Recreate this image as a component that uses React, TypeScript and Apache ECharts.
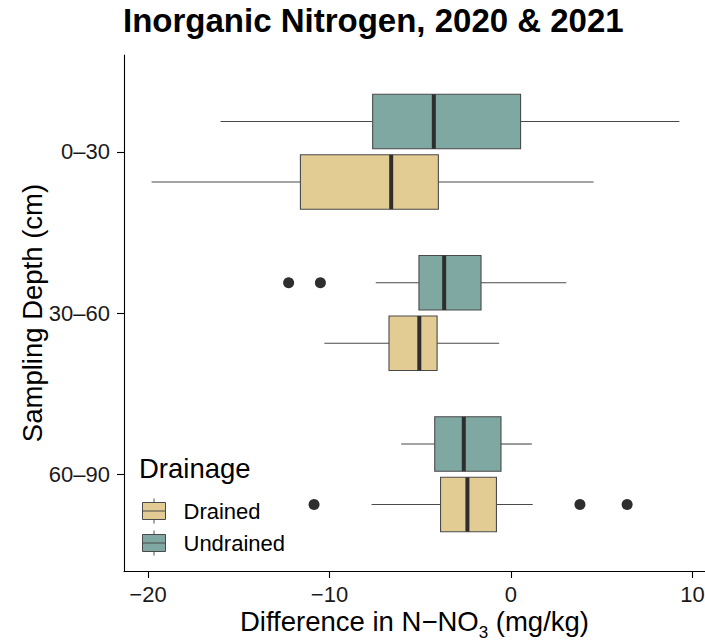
import React, { useEffect, useRef } from "react";
import * as echarts from "echarts";

const categories = ["0\u201330", "30\u201360", "60\u201390"];
const groups = ["Drained", "Undrained"];
// [min, q1, median, q3, max] per depth, in mg/kg
const drainedStats = [
  [-19.8, -11.6, -6.6, -4.0, 4.55],
  [-10.28, -6.72, -5.05, -4.07, -0.65],
  [-7.68, -3.88, -2.4, -0.8, 1.2],
];
const undrainedStats = [
  [-16.0, -7.62, -4.25, 0.53, 9.28],
  [-7.45, -5.07, -3.68, -1.65, 3.05],
  [-6.05, -4.2, -2.6, -0.55, 1.15],
];
// outliers: [depth index, value]
const drainedOutliers = [
  [2, -10.85],
  [2, 3.8],
  [2, 6.4],
];
const undrainedOutliers = [
  [1, -12.25],
  [1, -10.5],
];
const xTicks = [-20, -10, 0, 10];

const FONT = "Liberation Sans, Arial, Helvetica, sans-serif";
const TAN = "#E3CB94";
const TEAL = "#7FA8A2";
const DODGE = 0.1875;
const HALF = 0.16875;
const ICON =
  "path://M0,4H23V21H0Z M0,12.5H23 M11.5,0V4 M11.5,21V25";

function makeRender(offset: number, color: string) {
  return (params: any, api: any) => {
    const y = api.value(0) + offset;
    const cy = api.coord([0, y])[1];
    const t1 = api.coord([0, y - HALF])[1];
    const t2 = api.coord([0, y + HALF])[1];
    const top = Math.min(t1, t2);
    const bot = Math.max(t1, t2);
    const xs = [1, 2, 3, 4, 5].map((i) => api.coord([api.value(i), y])[0]);
    const lineStyle = { stroke: "#4a4a4a", lineWidth: 1.1 };
    return {
      type: "group",
      children: [
        { type: "line", shape: { x1: xs[0], y1: cy, x2: xs[1], y2: cy }, style: lineStyle },
        { type: "line", shape: { x1: xs[3], y1: cy, x2: xs[4], y2: cy }, style: lineStyle },
        {
          type: "rect",
          shape: { x: xs[1], y: top, width: xs[3] - xs[1], height: bot - top },
          style: { fill: color, stroke: "#4a4a4a", lineWidth: 1.1 },
        },
        {
          type: "line",
          shape: { x1: xs[2], y1: top, x2: xs[2], y2: bot },
          style: { stroke: "#2e2e2e", lineWidth: 4 },
        },
      ],
    };
  };
}

export default function App() {
  const ref = useRef<HTMLDivElement>(null);
  useEffect(() => {
    if (!ref.current) return;
    const chart = echarts.init(ref.current, null, { renderer: "svg" });
    const toRows = (stats: number[][]) => stats.map((s, i) => [i + 1, ...s]);
    const toPts = (pts: number[][], off: number) => pts.map(([c, v]) => [v, c + 1 + off]);
    chart.setOption({
      animation: false,
      textStyle: { fontFamily: FONT },
      title: [
        {
          text: "Inorganic Nitrogen, 2020 & 2021",
          left: 123,
          top: 4,
          padding: 0,
          textStyle: { fontSize: 33, fontWeight: "bold", color: "#000", fontFamily: FONT },
        },
        {
          text: "Drainage",
          left: 139,
          top: 454,
          padding: 0,
          textStyle: { fontSize: 27.5, fontWeight: "normal", color: "#000", fontFamily: FONT },
        },
      ],
      legend: {
        orient: "vertical",
        left: 142,
        top: 498,
        padding: 0,
        itemWidth: 23,
        itemHeight: 25,
        itemGap: 6,
        icon: ICON,
        textStyle: { fontSize: 22, color: "#000", fontFamily: FONT, padding: [0, 0, 0, 13] },
        data: [
          { name: groups[0], itemStyle: { color: TAN, borderColor: "#4a4a4a", borderWidth: 1 } },
          { name: groups[1], itemStyle: { color: TEAL, borderColor: "#4a4a4a", borderWidth: 1 } },
        ],
      },
      grid: { left: 124, right: 0, top: 55, bottom: 71, outerBoundsMode: "none" },
      xAxis: {
        type: "value",
        min: -21.32,
        max: 10.69,
        splitLine: { show: false },
        axisLine: { show: true, onZero: false, lineStyle: { color: "#000", width: 1.1 } },
        axisTick: { show: true, length: 7, customValues: xTicks, lineStyle: { color: "#000", width: 1.1 } },
        axisLabel: {
          customValues: xTicks,
          fontSize: 22,
          color: "#1a1a1a",
          margin: 12,
          fontFamily: FONT,
          formatter: (v: number) => (v < 0 ? "\u2212" + Math.abs(v) : String(v)),
        },
        name: "{a|Difference in N\u2212NO}{s|3}{a| (mg/kg)}",
        nameLocation: "middle",
        nameMoveOverlap: false,
        nameGap: 38,
        nameTextStyle: {
          fontFamily: FONT,
          color: "#000",
          rich: {
            a: { fontSize: 27.5, lineHeight: 32, padding: [0, 0, 7, 0], fontFamily: FONT, color: "#000" },
            s: { fontSize: 17, lineHeight: 18, verticalAlign: "bottom", fontFamily: FONT, color: "#000" },
          },
        },
      },
      yAxis: {
        type: "value",
        min: 0.4,
        max: 3.6,
        inverse: true,
        splitLine: { show: false },
        axisLine: { show: true, onZero: false, lineStyle: { color: "#000", width: 1.1 } },
        axisTick: { show: true, length: 7, customValues: [1, 2, 3], lineStyle: { color: "#000", width: 1.1 } },
        axisLabel: {
          customValues: [1, 2, 3],
          fontSize: 22,
          color: "#1a1a1a",
          margin: 14,
          fontFamily: FONT,
          formatter: (v: number) => categories[Math.round(v) - 1] ?? "",
        },
        name: "Sampling Depth (cm)",
        nameLocation: "middle",
        nameMoveOverlap: false,
        nameGap: 78,
        nameRotate: 90,
        nameTextStyle: { fontSize: 27.5, color: "#000", fontFamily: FONT },
      },
      series: [
        {
          name: groups[0],
          type: "custom",
          itemStyle: { color: TAN },
          encode: { x: [1, 2, 3, 4, 5], y: 0 },
          renderItem: makeRender(DODGE, TAN),
          data: toRows(drainedStats),
        },
        {
          name: groups[1],
          type: "custom",
          itemStyle: { color: TEAL },
          encode: { x: [1, 2, 3, 4, 5], y: 0 },
          renderItem: makeRender(-DODGE, TEAL),
          data: toRows(undrainedStats),
        },
        {
          name: "Drained outliers",
          type: "scatter",
          symbolSize: 11,
          itemStyle: { color: "#2e2e2e", opacity: 1 },
          data: toPts(drainedOutliers, DODGE),
        },
        {
          name: "Undrained outliers",
          type: "scatter",
          symbolSize: 11,
          itemStyle: { color: "#2e2e2e", opacity: 1 },
          data: toPts(undrainedOutliers, -DODGE),
        },
      ],
    });
    return () => chart.dispose();
  }, []);
  return (
    <div
      ref={ref}
      style={{ position: "absolute", left: 0, top: 0, width: 705, height: 642, background: "#fff" }}
    />
  );
}
